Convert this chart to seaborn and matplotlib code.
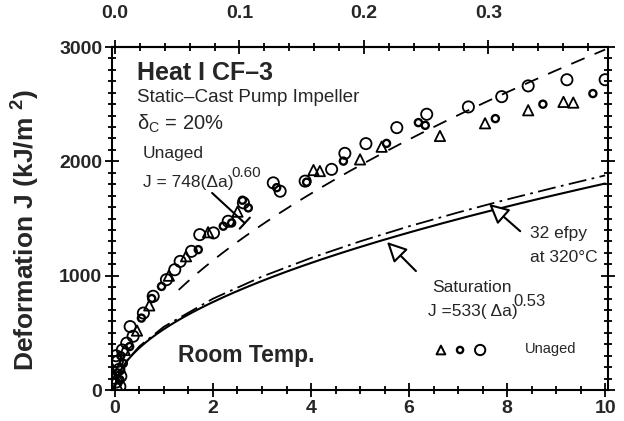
import numpy as np
import pandas as pd
import seaborn as sns
import matplotlib
matplotlib.use("Agg")
import matplotlib.pyplot as plt
from matplotlib.ticker import MultipleLocator, FixedLocator, FormatStrFormatter

# ---------------- data ----------------
# large open circles
circ_x = [0.03, 0.10, 0.05, 0.08, 0.12, 0.15, 0.02, 0.24, 0.37, 0.31, 0.58, 0.78,
          1.05, 1.22, 1.33, 1.56, 1.73, 2.01, 2.31, 2.62, 3.23, 3.37, 3.88, 4.42,
          4.69, 5.12, 5.75, 6.36, 7.21, 7.89, 8.43, 9.22, 10.0]
circ_y = [70, 30, 250, 180, 120, 350, 300, 410, 470, 555, 673, 820,
          965, 1052, 1125, 1213, 1359, 1374, 1476, 1637, 1812, 1739, 1827, 1930,
          2070, 2155, 2295, 2412, 2476, 2566, 2660, 2714, 2714]
# small circles (diamond-like)
small_x = [0.05, 0.10, 0.12, 0.17, 0.30, 0.54, 0.75, 0.95, 1.70, 2.21, 2.38, 2.72,
           2.60, 3.30, 3.91, 4.66, 5.54, 6.19, 6.33, 7.76, 8.73, 9.75]
small_y = [150, 90, 300, 233, 380, 629, 800, 906, 1228, 1433, 1461, 1593,
           1660, 1770, 1818, 2002, 2157, 2339, 2315, 2374, 2500, 2593]
# open triangles
tri_x = [0.02, 0.05, 0.10, 0.20, 0.45, 0.70, 1.10, 1.45, 1.90, 2.50, 4.05, 4.18,
         5.00, 5.44, 6.63, 7.55, 8.43, 9.15, 9.35]
tri_y = [100, 40, 200, 350, 520, 740, 1000, 1170, 1380, 1560, 1924, 1915,
         2017, 2128, 2222, 2333, 2447, 2520, 2514]

# fitted curves stated on the chart: J = C * (delta a)^n
unaged_C, unaged_n = 748, 0.60
sat_C, sat_n = 533, 0.53
# 32 efpy at 320 C curve (dash-dot), read points
efpy_x = [0.02, 0.1, 0.2, 0.5, 1, 2, 3, 4, 5, 6, 7, 8, 9, 10]
efpy_y = [70, 160, 237, 383, 554, 799, 992, 1155, 1300, 1432, 1553, 1667, 1774, 1877]

top_ticks = [0.0, 0.1, 0.2, 0.3]

# ---------------- style ----------------
sns.set_theme(style="ticks")
plt.rcParams["font.family"] = ["Liberation Sans", "DejaVu Sans"]
plt.rcParams["mathtext.fontset"] = "custom"
plt.rcParams["mathtext.rm"] = "Liberation Sans"
plt.rcParams["mathtext.it"] = "Liberation Sans:italic"
plt.rcParams["mathtext.bf"] = "Liberation Sans:bold"

fig = plt.figure(figsize=(6.24, 4.21), dpi=100)
fig.patch.set_facecolor("white")
ax = fig.add_axes([0.1795, 0.0736, 0.795, 0.8147])
ax.set_facecolor("white")

da_dash = np.linspace(1.3, 10, 300)
da = np.linspace(0.005, 10, 400)
sns.lineplot(x=da_dash, y=unaged_C * da_dash ** unaged_n, ax=ax, color="black",
             lw=1.3, linestyle=(0, (8, 6)), sort=False)
sns.lineplot(x=da, y=sat_C * da ** sat_n, ax=ax, color="black", lw=1.5, sort=False)
sns.lineplot(x=efpy_x, y=efpy_y, ax=ax, color="black", lw=1.3,
             linestyle=(0, (10, 3, 1.5, 3)), sort=False)

sns.scatterplot(x=circ_x, y=circ_y, marker="o", s=65, facecolor="none",
                edgecolor="black", color="black", linewidth=1.3, ax=ax, zorder=3)
sns.scatterplot(x=small_x, y=small_y, marker="o", s=26, facecolor="none",
                edgecolor="black", color="black", linewidth=1.7, ax=ax, zorder=3)
sns.scatterplot(x=tri_x, y=tri_y, marker="^", s=55, facecolor="none",
                edgecolor="black", color="black", linewidth=1.3, ax=ax, zorder=3)

# legend-like markers
sns.scatterplot(x=[6.65], y=[350], marker="^", s=40, facecolor="none",
                edgecolor="black", color="black", linewidth=1.4, ax=ax)
sns.scatterplot(x=[7.04], y=[350], marker="o", s=20, facecolor="none",
                edgecolor="black", color="black", linewidth=1.7, ax=ax)
sns.scatterplot(x=[7.45], y=[350], marker="o", s=55, facecolor="none",
                edgecolor="black", color="black", linewidth=1.4, ax=ax)

# ---------------- axes ----------------
ax.set_xlim(-0.06, 10.06)
ax.set_ylim(0, 3000)
ax.xaxis.set_major_locator(MultipleLocator(2))
ax.xaxis.set_minor_locator(MultipleLocator(0.5))
ax.yaxis.set_major_locator(MultipleLocator(1000))
ax.yaxis.set_minor_locator(MultipleLocator(100))
for s in ax.spines.values():
    s.set_linewidth(1.5)
    s.set_color("black")
ax.tick_params(which="both", direction="inout", color="black", width=1.3,
               left=True, right=True, bottom=True, top=False)
ax.tick_params(which="major", length=10, labelsize=14, pad=2)
ax.tick_params(which="minor", length=6)
for lab in ax.get_xticklabels() + ax.get_yticklabels():
    lab.set_fontweight("bold")

sec = ax.secondary_xaxis("top", functions=(lambda x: x / 25.4, lambda x: x * 25.4))
sec.xaxis.set_major_locator(FixedLocator(top_ticks))
sec.xaxis.set_minor_locator(MultipleLocator(0.02))
sec.xaxis.set_major_formatter(FormatStrFormatter("%.1f"))
sec.tick_params(which="both", direction="inout", color="black", width=1.3)
sec.tick_params(which="major", length=10, labelsize=14, pad=13)
sec.tick_params(which="minor", length=6)
sec.spines["top"].set_linewidth(1.5)
for lab in sec.get_xticklabels():
    lab.set_fontweight("bold")

ax.set_xlabel("")
ax.set_ylabel(r"Deformation J (kJ/m $^{\mathbf{2}}$)", fontsize=19,
              fontweight="bold")
ax.yaxis.set_label_coords(-0.141, 0.465)

# ---------------- texts ----------------
ax.text(0.45, 2711, "Heat I CF\u20133", fontsize=18, fontweight="bold", va="baseline")
ax.text(0.45, 2520, "Static\u2013Cast Pump Impeller", fontsize=13.6, va="baseline")
ax.text(0.45, 2276, r"$\mathrm{\delta}_{\mathrm{C}}$ = 20%", fontsize=14.5,
        va="baseline")
ax.text(0.57, 2030, "Unaged", fontsize=12.5, va="baseline")
ax.text(0.57, 1775, "J = 748(\u0394a)", fontsize=12.5, va="baseline")
ax.text(2.37, 1863, "0.60", fontsize=11, va="baseline")

ax.text(6.47, 857, "Saturation", fontsize=12.5, va="baseline")
ax.text(6.39, 647, "J =533( \u0394a)", fontsize=12.5, va="baseline")
ax.text(8.12, 735, "0.53", fontsize=12, va="baseline")
ax.text(8.47, 1329, "32 efpy", fontsize=12.5, va="baseline")
ax.text(8.47, 1120, "at 320\u00b0C", fontsize=12.5, va="baseline")
ax.text(1.29, 245, "Room Temp.", fontsize=16.5, fontweight="bold", va="baseline")
ax.text(8.37, 324, "Unaged", fontsize=10.5, va="baseline")

# ---------------- arrows ----------------
ax.annotate("", xy=(2.69, 1443), xytext=(1.94, 1740),
            arrowprops=dict(arrowstyle="-[, widthB=0.45, lengthB=0.0",
                            color="black", lw=1.5))
ax.annotate("", xy=(7.59, 1644), xytext=(8.31, 1373),
            arrowprops=dict(arrowstyle="-|>, head_length=1.0, head_width=0.5",
                            fc="white", ec="black", lw=1.5))
ax.annotate("", xy=(5.51, 1312), xytext=(6.18, 1023),
            arrowprops=dict(arrowstyle="-|>, head_length=1.0, head_width=0.5",
                            fc="white", ec="black", lw=1.5))

fig.savefig("out.png", dpi=100, facecolor="white")
